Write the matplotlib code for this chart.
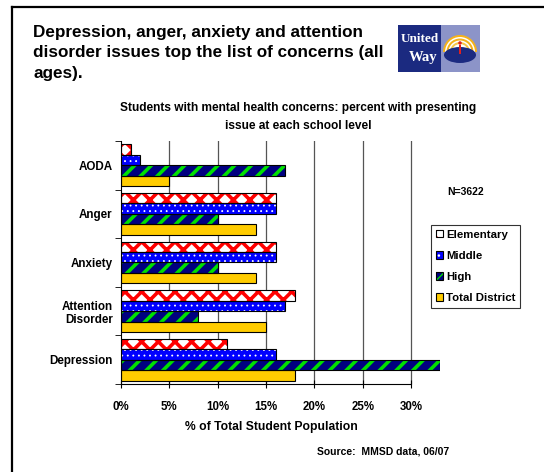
import matplotlib
matplotlib.use("Agg")
import matplotlib.pyplot as plt
import numpy as np
from matplotlib.patches import Rectangle, Wedge, Ellipse
from matplotlib.lines import Line2D
from matplotlib.legend_handler import HandlerTuple

# ============================================
# DATA
# ============================================
categories = ["AODA", "Anger", "Anxiety", "Attention\nDisorder", "Depression"]
series_names = ["Elementary", "Middle", "High", "Total District"]
elementary = [1, 16, 16, 18, 11]
middle = [2, 16, 16, 17, 16]
high = [17, 10, 10, 8, 33]
total_district = [5, 14, 14, 15, 18]
x_ticks = [0, 5, 10, 15, 20, 25, 30]
x_tick_labels = ["0%", "5%", "10%", "15%", "20%", "25%", "30%"]

# styles : (fond, couleur du motif, motif, epaisseur du motif)
styles = [
    ("white", "#FF0000", "xx", 2.6),
    ("#0000FF", "white", "...", 0.6),
    ("#000080", "#00E000", "//", 2.6),
    ("#FFCC00", "#FFCC00", None, 0.0),
]

plt.rcParams['font.family'] = ['Liberation Sans', 'DejaVu Sans']
plt.rcParams['font.weight'] = 'bold'

fig = plt.figure(figsize=(5.44, 4.72), dpi=100)
ax = fig.add_axes([121 / 544, 88 / 472, 319 / 544, 243 / 472])

values = [elementary, middle, high, total_district]
y = np.arange(len(categories))
h = 0.216
offsets = [-1.5 * h, -0.5 * h, 0.5 * h, 1.5 * h]


def set_hlw(patch, lw):
    try:
        patch.set_hatch_linewidth(lw)
    except AttributeError:
        pass


legend_handles = []
for vals, off, (fc, hc, hatch, hlw) in zip(values, offsets, styles):
    bars = ax.barh(y + off, vals, height=h, color=fc, edgecolor=hc,
                   hatch=hatch, linewidth=0, zorder=2)
    for b in bars:
        set_hlw(b, hlw)
    ax.barh(y + off, vals, height=h, fill=False, edgecolor="black",
            linewidth=0.8, zorder=3)
    p1 = Rectangle((0, 0), 1, 1, facecolor=fc, edgecolor=hc, hatch=hatch, linewidth=0)
    set_hlw(p1, hlw)
    p2 = Rectangle((0, 0), 1, 1, fill=False, edgecolor="black", linewidth=0.8)
    legend_handles.append((p1, p2))

ax.set_xlim(0, 33)
ax.set_ylim(len(categories) - 0.5, -0.5)
ax.set_xticks(x_ticks)
ax.set_xticklabels(x_tick_labels, fontsize=8.3, fontweight='bold')
ax.set_yticks(y)
ax.set_yticklabels(categories, fontsize=8.4, fontweight='bold')
ax.set_yticks(np.arange(len(categories) + 1) - 0.5, minor=True)
ax.tick_params(axis='y', which='major', length=0, pad=6)
ax.tick_params(axis='y', which='minor', length=4, direction='out')
ax.tick_params(axis='x', length=6, direction='inout', pad=9)

for xv in x_ticks[1:]:
    ax.axvline(xv, color="#555555", linewidth=0.9, zorder=1)

ax.spines['top'].set_visible(False)
ax.spines['right'].set_visible(False)
ax.spines['bottom'].set_bounds(0, 30)

ax.set_xlabel("% of Total Student Population", fontsize=8.7, fontweight='bold')
ax.xaxis.set_label_coords(150 / 319, -37 / 243)

leg = fig.legend(legend_handles, series_names, loc='upper left',
                 bbox_to_anchor=(431 / 544, 1 - 225 / 472),
                 handler_map={tuple: HandlerTuple(ndivide=1)},
                 fontsize=8.2, frameon=True, fancybox=False, edgecolor="black",
                 handlelength=0.65, handleheight=0.65, handletextpad=0.25,
                 labelspacing=0.98, borderpad=0.4, borderaxespad=0)
leg.get_frame().set_linewidth(0.8)

# textes
fig.text(33 / 544, 1 - 25 / 472,
         "Depression, anger, anxiety and attention\n"
         "disorder issues top the list of concerns (all\nages).",
         fontsize=12.3, fontweight='bold', va='top', ha='left',
         linespacing=1.45)
fig.text(298 / 544, 1 - 117 / 472,
         "Students with mental health concerns: percent with presenting\n"
         "issue at each school level",
         fontsize=8.6, fontweight='bold', ha='center', va='center',
         linespacing=1.6)
fig.text(466 / 544, 1 - 192 / 472, "N=3622", fontsize=7.5, fontweight='bold',
         ha='center', va='center')
fig.text(383 / 544, 1 - 451 / 472, "Source:  MMSD data, 06/07", fontsize=7.5,
         fontweight='bold', ha='center', va='center')

# cadre
fig.add_artist(Line2D([12 / 544, 12 / 544], [0, 1 - 7 / 472], color="black",
                      linewidth=1.6, transform=fig.transFigure))
fig.add_artist(Line2D([12 / 544, 1], [1 - 7 / 472, 1 - 7 / 472], color="black",
                      linewidth=1.6, transform=fig.transFigure))

# logo United Way
lax = fig.add_axes([398 / 544, 1 - 72 / 472, 82 / 544, 47 / 472])
lax.set_xlim(0, 82)
lax.set_ylim(0, 47)
lax.axis('off')
lax.add_patch(Rectangle((0, 0), 43, 47, facecolor="#1B2A80", edgecolor="none"))
lax.add_patch(Rectangle((43, 0), 39, 47, facecolor="#8C94C8", edgecolor="none"))
lax.text(21.5, 33, "United", color="white", fontsize=9.5, fontweight='bold',
         family='Liberation Serif', ha='center', va='center')
lax.text(39, 14, "Way", color="white", fontsize=10.5, fontweight='bold',
         family='Liberation Serif', ha='right', va='center')
for r, c in [(17, "#F5B21A"), (15, "#FFFFFF"), (13.5, "#F5B21A"), (11.5, "#FFFFFF"),
             (10, "#F7C64A"), (8, "#FFFFFF")]:
    lax.add_patch(Wedge((62, 20), r, 0, 180, facecolor=c, edgecolor="none"))
lax.add_patch(Ellipse((62, 17), 32, 16, facecolor="#1B2A80", edgecolor="none"))
lax.add_patch(Rectangle((60.8, 18), 2.4, 9, facecolor="#E02020", edgecolor="none"))
lax.add_patch(Ellipse((62, 29), 3.5, 3.5, facecolor="#E02020", edgecolor="none"))

fig.savefig("out.png", dpi=100)
